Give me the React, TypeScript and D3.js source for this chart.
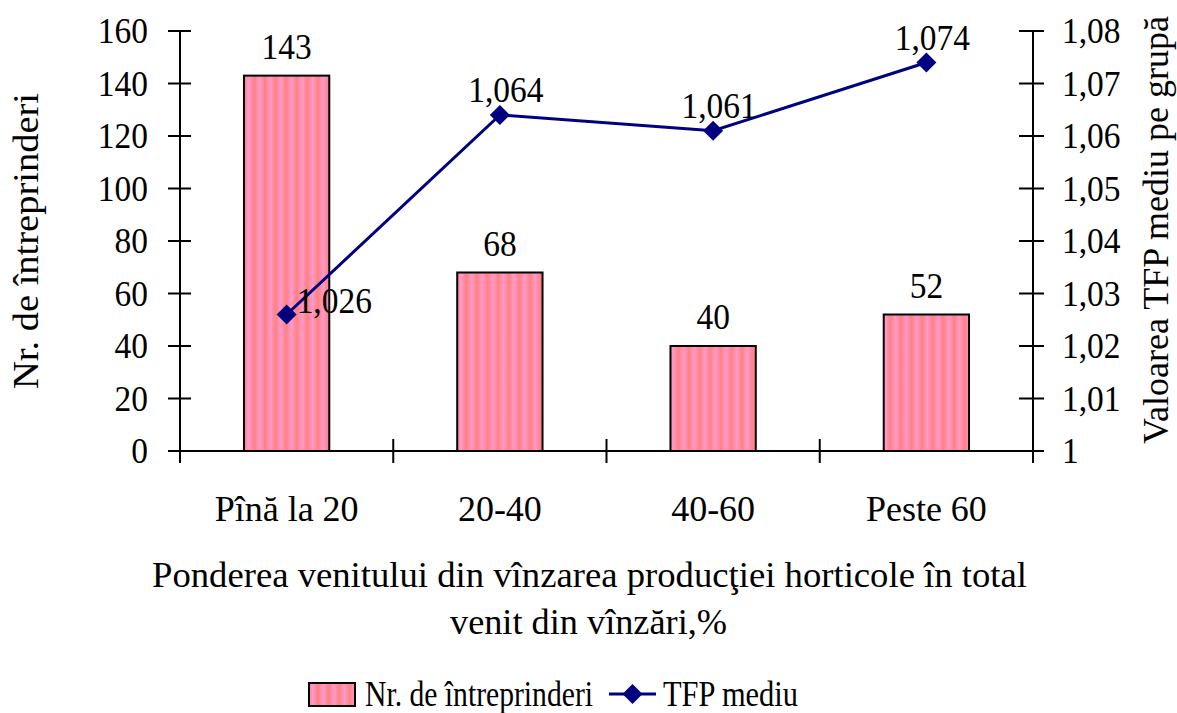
import React from "react";
import * as d3 from "d3";

const categories = ["Pînă la 20", "20-40", "40-60", "Peste 60"];
const barValues = [143, 68, 40, 52];
const tfpValues = [1.026, 1.064, 1.061, 1.074];
const tfpLabels = ["1,026", "1,064", "1,061", "1,074"];
const leftTicks = [0, 20, 40, 60, 80, 100, 120, 140, 160];
const rightTicks = [1, 1.01, 1.02, 1.03, 1.04, 1.05, 1.06, 1.07, 1.08];
const rightTickLabels = ["1", "1,01", "1,02", "1,03", "1,04", "1,05", "1,06", "1,07", "1,08"];

const W = 1177, H = 713;
const X0 = 180, X1 = 1033, Y0 = 451, Y1 = 31;
const FONT = "Liberation Serif, Times New Roman, DejaVu Serif, serif";
const FS = 36;
const NUM_SX = 0.93;

type Anchor = "start" | "middle" | "end";
function Num({ x, y, anchor, children }: { x: number; y: number; anchor: Anchor; children: React.ReactNode }) {
  return (
    <text transform={`translate(${x},${y}) scale(${NUM_SX},1)`} textAnchor={anchor} style={{ fontFamily: FONT, fontSize: FS }}>
      {children}
    </text>
  );
}

export default function App() {
  const x = d3.scaleBand<string>().domain(categories).range([X0, X1]).paddingInner(0).paddingOuter(0);
  const yL = d3.scaleLinear().domain([0, 160]).range([Y0, Y1]);
  const yR = d3.scaleLinear().domain([1, 1.08]).range([Y0, Y1]);
  const bw = x.bandwidth() * 0.4;
  const cx = (c: string) => (x(c) as number) + x.bandwidth() / 2;
  const line = d3.line<number>().x((_, i) => cx(categories[i])).y((d) => yR(d));
  const diamond = (px: number, py: number, r: number) =>
    `M${px},${py - r}L${px + r},${py}L${px},${py + r}L${px - r},${py}Z`;
  const ts: React.CSSProperties = { fontFamily: FONT, fontSize: FS };

  return (
    <svg width={W} height={H} style={{ position: "absolute", left: 0, top: 0, background: "#fff", fontFamily: FONT }}>
      <defs>
        <linearGradient id="stripeGrad" x1="0" x2="1" y1="0" y2="0">
          <stop offset="0" stopColor="#FF8080" />
          <stop offset="0.5" stopColor="#FF9ACC" />
          <stop offset="1" stopColor="#FF8080" />
        </linearGradient>
        <pattern id="stripes" patternUnits="userSpaceOnUse" width={10.6} height={20} x={0}>
          <rect width={10.6} height={20} fill="url(#stripeGrad)" />
        </pattern>
      </defs>
      <rect width={W} height={H} fill="#fff" />
      {/* bars */}
      {barValues.map((v, i) => {
        const c = categories[i];
        return (
          <g key={c}>
            <rect x={cx(c) - bw / 2} y={yL(v)} width={bw} height={Y0 - yL(v)} fill="url(#stripes)" stroke="#000" strokeWidth={2} />
            <Num x={cx(c)} y={yL(v) - 17} anchor="middle">{v}</Num>
          </g>
        );
      })}
      {/* axes */}
      <line x1={X0} x2={X1} y1={Y0} y2={Y0} stroke="#000" strokeWidth={2} />
      <line x1={X0} x2={X0} y1={Y1} y2={Y0 + 12} stroke="#000" strokeWidth={2} />
      <line x1={X1} x2={X1} y1={Y1} y2={Y0 + 12} stroke="#000" strokeWidth={2} />
      {leftTicks.map((t) => (
        <g key={"l" + t}>
          <line x1={X0 - 12} x2={X0 + 11} y1={yL(t)} y2={yL(t)} stroke="#000" strokeWidth={2} />
          <Num x={X0 - 32} y={yL(t) + 12} anchor="end">{t}</Num>
        </g>
      ))}
      {rightTicks.map((t, i) => (
        <g key={"r" + t}>
          <line x1={X1 - 14} x2={X1 + 11} y1={yR(t)} y2={yR(t)} stroke="#000" strokeWidth={2} />
          <Num x={X1 + 29} y={yR(t) + 12} anchor="start">{rightTickLabels[i]}</Num>
        </g>
      ))}
      {[...categories.map((c) => x(c) as number), X1].map((px, i) => (
        <line key={"xt" + i} x1={px} x2={px} y1={Y0 - 12} y2={Y0 + 12} stroke="#000" strokeWidth={2} />
      ))}
      {categories.map((c) => (
        <text key={"c" + c} x={cx(c)} y={521} textAnchor="middle" style={ts}>{c}</text>
      ))}
      {/* line series */}
      <path d={line(tfpValues) || ""} fill="none" stroke="#000080" strokeWidth={3} />
      {tfpValues.map((v, i) => (
        <path key={"m" + i} d={diamond(cx(categories[i]), yR(v), 10)} fill="#000080" />
      ))}
      {tfpValues.map((v, i) =>
        i === 0 ? (
          <Num key={"tl" + i} x={cx(categories[i]) + 10} y={yR(v) - 2} anchor="start">{tfpLabels[i]}</Num>
        ) : (
          <Num key={"tl" + i} x={cx(categories[i]) + 6} y={yR(v) - 13} anchor="middle">{tfpLabels[i]}</Num>
        )
      )}
      {/* axis titles */}
      <text transform={`translate(38,241) rotate(-90)`} textAnchor="middle" style={ts} textLength={296} lengthAdjust="spacingAndGlyphs">Nr. de întreprinderi</text>
      <text transform={`translate(1168,230) rotate(-90)`} textAnchor="middle" style={ts}>Valoarea TFP mediu pe grupă</text>
      <text x={589.5} y={587} textAnchor="middle" style={ts} textLength={875} lengthAdjust="spacingAndGlyphs">Ponderea venitului din vînzarea producţiei horticole în total</text>
      <text x={588.5} y={634} textAnchor="middle" style={ts} textLength={277} lengthAdjust="spacingAndGlyphs">venit din vînzări,%</text>
      {/* legend */}
      <rect x={309} y={683} width={46} height={23} fill="url(#stripes)" stroke="#000" strokeWidth={2} />
      <text x={365} y={706} style={ts} textLength={228} lengthAdjust="spacingAndGlyphs">Nr. de întreprinderi</text>
      <line x1={609} x2={656} y1={694} y2={694} stroke="#000080" strokeWidth={3} />
      <path d={diamond(632.5, 694, 10)} fill="#000080" />
      <text x={663} y={706} style={ts} textLength={135} lengthAdjust="spacingAndGlyphs">TFP mediu</text>
    </svg>
  );
}
